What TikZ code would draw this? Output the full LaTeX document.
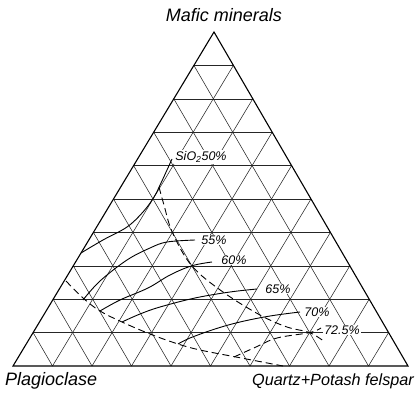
\documentclass[tikz,border=0pt]{standalone}
\usepackage{fontspec}
\setmainfont{Liberation Sans}
\usetikzlibrary{calc}
\begin{document}
\begin{tikzpicture}[x=1pt,y=-1pt,
  gridline/.style={line width=0.55pt, black!85},
  edge/.style={line width=1.1pt},
  iso/.style={line width=0.9pt},
  bound/.style={line width=0.9pt, dash pattern=on 7pt off 4pt},
  pct/.style={fill=white, inner sep=1pt, font=\fontsize{12.5}{12.5}\selectfont\itshape},
  corner/.style={font=\fontsize{18}{18}\selectfont\itshape, inner sep=0pt}]
\useasboundingbox (0,0) rectangle (420,393);
\coordinate (A) at (214,32);
\coordinate (L) at (13,366);
\coordinate (R) at (408,366);
% grid
\foreach \k in {1,...,9}{
  \draw[gridline] ($(A)!\k/10!(L)$) -- ($(A)!\k/10!(R)$);
  \draw[gridline] ($(L)!\k/10!(R)$) -- ($(A)!\k/10!(R)$);
  \draw[gridline] ($(R)!\k/10!(L)$) -- ($(A)!\k/10!(L)$);
}
\draw[edge] (A) -- (L) -- (R) -- cycle;
% SiO2 isopleths
\draw[iso] plot[smooth, tension=0.6] coordinates {(81,253) (103,240) (127,227) (143,212) (154,197) (161,183) (167,170) (172,159)};
\draw[iso] plot[smooth, tension=0.6] coordinates {(83,300) (100,281) (127,260) (150,248) (167,242) (195,240)};
\draw[iso] plot[smooth, tension=0.6] coordinates {(100,311) (120,300) (148,288) (170,275) (191.8,265.8) (212,262)};
\draw[iso] plot[smooth, tension=0.6] coordinates {(122,322) (140,314) (160,307) (195,298) (230,292) (257,289)};
\draw[iso] plot[smooth, tension=0.6] coordinates {(178,344) (190,338) (215,329) (240,322) (270,316) (300,312)};
% dashed boundaries
\draw[bound] plot[smooth, tension=0.6] coordinates {(159,187) (164,205) (172.4,232.4) (191.8,265.8) (223,292) (260,315) (287,327) (309.6,332.6) (325,342)};
\draw[bound] plot[smooth, tension=0.6] coordinates {(66,281) (83,298) (100,311) (122,322) (150,334) (178,344) (200,350) (236,357) (283,366)};
\draw[bound] plot[smooth, tension=0.6] coordinates {(234,357) (256,347) (277,338) (309.6,332.6) (321,328)};
% labels
\node[pct] (l50) at (201,157) {SiO\textsubscript{2}50\%};
\node[pct] (l55) at (214,240) {55\%};
\node[pct] (l60) at (234,260) {60\%};
\node[pct] (l65) at (278,289) {65\%};
\node[pct] (l70) at (317,312) {70\%};
\node[pct] (l725) at (342,330) {72.5\%};
\node[corner, anchor=base] (top) at (224,22) {Mafic minerals};
\node[corner, anchor=base west] (left) at (5,385) {Plagioclase};
\node[corner, anchor=base east, font=\fontsize{16.2}{16.2}\selectfont\itshape] (right) at (414,385) {Quartz+Potash felspar};
\end{tikzpicture}
\end{document}
